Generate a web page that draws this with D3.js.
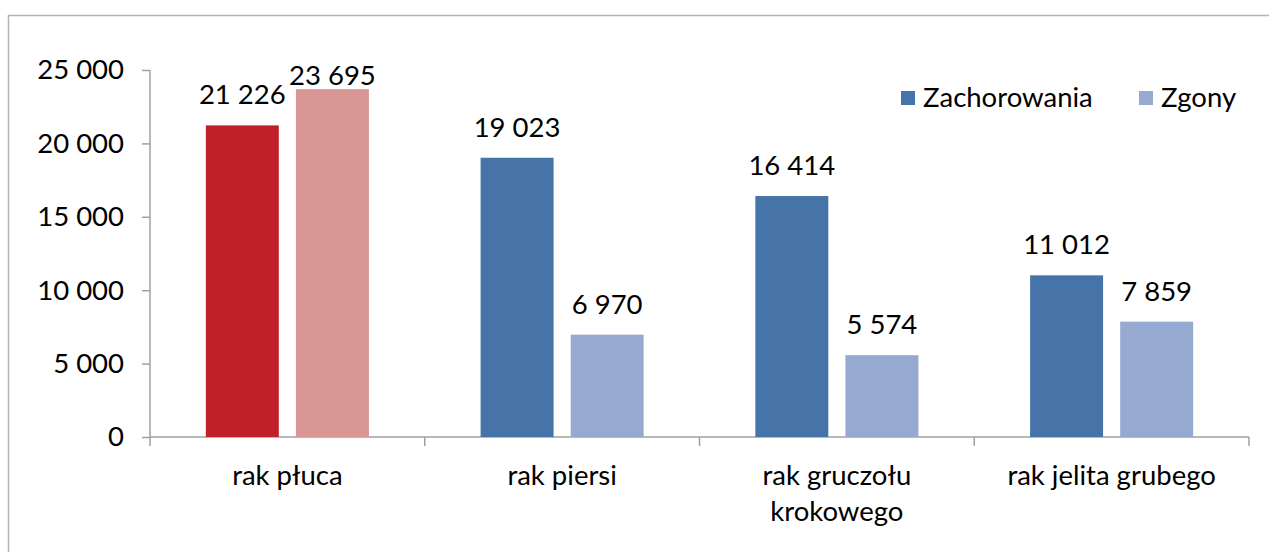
<!DOCTYPE html>
<html>
<head>
<meta charset="utf-8">
<script src="https://cdn.jsdelivr.net/npm/d3@7"></script>
<style>
  body { margin: 0; background: #fff; }
  svg text { font-family: Lato, "Open Sans", sans-serif; fill: #000; }
</style>
</head>
<body>
<div id="chart"></div>
<script>
// data
var categories = ["rak płuca", "rak piersi", "rak gruczołu krokowego", "rak jelita grubego"];
var categoryLines = [["rak płuca"], ["rak piersi"], ["rak gruczołu", "krokowego"], ["rak jelita grubego"]];
var seriesNames = ["Zachorowania", "Zgony"];
var zachorowania = [21226, 19023, 16414, 11012];
var zgony = [23695, 6970, 5574, 7859];
var yTicks = [0, 5000, 10000, 15000, 20000, 25000];

var width = 1269, height = 552;
var fontSize = 27.5;
var colors = { Zachorowania: "#4674A8", Zgony: "#96AAD1" };
var highlight = { Zachorowania: "#C0202A", Zgony: "#D99694" };

var svg = d3.select("#chart").append("svg")
  .attr("width", width)
  .attr("height", height);

// chart frame
svg.append("rect")
  .attr("x", 8.5).attr("y", 15.5)
  .attr("width", 1270).attr("height", 600)
  .attr("fill", "none")
  .attr("stroke", "#b3b3b3")
  .attr("stroke-width", 1.5);

var plotLeft = 150, plotRight = 1249, plotTop = 70, plotBottom = 437;

var y = d3.scaleLinear().domain([0, 25000]).range([plotBottom, plotTop]);
var x0 = d3.scaleBand().domain(categories).range([plotLeft, plotRight]).padding(0);
var x1 = d3.scaleBand().domain(seriesNames).range([0, x0.bandwidth()])
  .paddingInner(0.19).paddingOuter(0.62);

var fmt = function(v) { return d3.format(",")(v).replace(/,/g, " "); };

var rows = categories.map(function(c, i) {
  return { cat: c, values: [
    { key: "Zachorowania", value: zachorowania[i] },
    { key: "Zgony", value: zgony[i] }
  ]};
});

// y axis
var yAxis = svg.append("g")
  .attr("transform", "translate(" + plotLeft + ",0)")
  .call(d3.axisLeft(y).tickValues(yTicks).tickSize(8).tickPadding(18).tickFormat(fmt));
yAxis.selectAll("text").attr("font-size", fontSize).attr("font-family", "Lato, sans-serif");
yAxis.select(".domain").attr("d", "M0," + plotTop + "V" + plotBottom);

// x axis
var xAxis = svg.append("g")
  .attr("transform", "translate(0," + plotBottom + ")");
xAxis.append("line")
  .attr("x1", plotLeft).attr("x2", plotRight)
  .attr("y1", 0).attr("y2", 0);
xAxis.selectAll(".xtick").data(d3.range(categories.length + 1)).enter()
  .append("line")
  .attr("class", "xtick")
  .attr("x1", function(i) { return plotLeft + i * x0.step(); })
  .attr("x2", function(i) { return plotLeft + i * x0.step(); })
  .attr("y1", 0).attr("y2", 9);

svg.selectAll(".domain, .tick line, g line").attr("stroke", "#a0a0a0").attr("stroke-width", 1.5);

// category labels
var catLabel = svg.append("g").selectAll("text").data(categories).enter()
  .append("text")
  .attr("text-anchor", "middle")
  .attr("font-size", fontSize)
  .attr("x", function(d) { return x0(d) + x0.bandwidth() / 2; })
  .attr("y", 485);
catLabel.each(function(d, i) {
  var t = d3.select(this);
  categoryLines[i].forEach(function(line, j) {
    t.append("tspan")
      .attr("x", x0(d) + x0.bandwidth() / 2)
      .attr("dy", j === 0 ? 0 : 36)
      .text(line);
  });
});

// bars
var groups = svg.append("g").selectAll("g").data(rows).enter()
  .append("g")
  .attr("transform", function(d) { return "translate(" + x0(d.cat) + ",0)"; });

groups.selectAll("rect").data(function(d, i) {
  return d.values.map(function(v) { return { key: v.key, value: v.value, first: i === 0 }; });
}).enter()
  .append("rect")
  .attr("x", function(d) { return x1(d.key); })
  .attr("y", function(d) { return y(d.value); })
  .attr("width", x1.bandwidth())
  .attr("height", function(d) { return plotBottom - y(d.value); })
  .attr("fill", function(d) { return d.first ? highlight[d.key] : colors[d.key]; });

groups.selectAll("text.val").data(function(d) { return d.values; }).enter()
  .append("text")
  .attr("class", "val")
  .attr("text-anchor", "middle")
  .attr("font-size", fontSize)
  .attr("x", function(d) { return x1(d.key) + x1.bandwidth() / 2; })
  .attr("y", function(d) { return Math.max(y(d.value) - 21, y(25000) + 15); })
  .text(function(d) { return fmt(d.value); });

// legend
var legend = svg.append("g").attr("transform", "translate(901,91)");
var legX = [0, 238];
seriesNames.forEach(function(s, i) {
  legend.append("rect")
    .attr("x", legX[i]).attr("y", 0)
    .attr("width", 14).attr("height", 14)
    .attr("fill", colors[s]);
  legend.append("text")
    .attr("x", legX[i] + 22).attr("y", 16)
    .attr("font-size", fontSize)
    .text(s);
});
</script>
</body>
</html>
